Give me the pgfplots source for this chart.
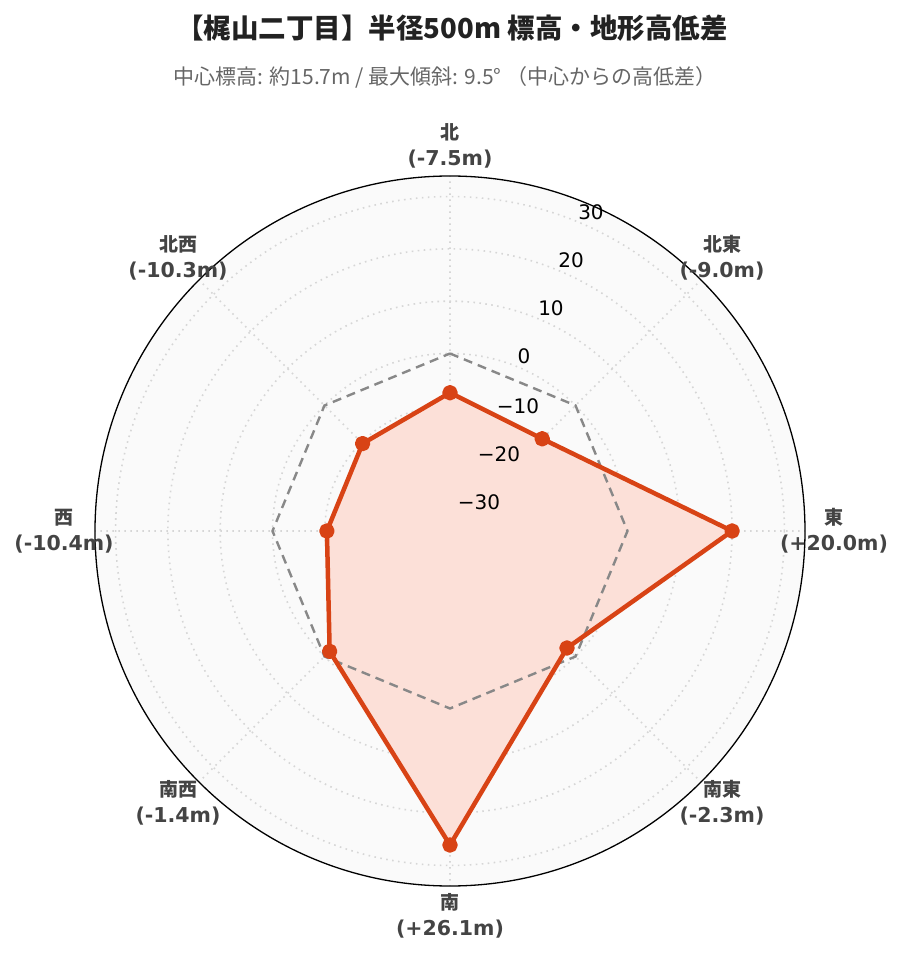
\documentclass[border=0pt]{standalone}
\usepackage{fontspec}
\usepackage{pgfplots}
\usepackage{pgfplotstable}
\pgfplotsset{compat=1.18}
\usepgfplotslibrary{polar}
\setmainfont{DejaVu Sans}
\newfontfamily\cjk{Noto Sans CJK JP}
\definecolor{lineC}{HTML}{D84315}
\definecolor{fillC}{RGB}{252,224,216}
\definecolor{bgC}{HTML}{FAFAFA}
\definecolor{gridC}{HTML}{D6D6D6}
\definecolor{dashC}{HTML}{888888}
\definecolor{labC}{HTML}{444444}
\definecolor{titC}{HTML}{222222}
\definecolor{subC}{HTML}{666666}
% bearing (deg, clockwise from north), height difference (m)
\pgfplotstableread{
b v
0 -7.5
45 -9.0
90 20.0
135 -2.3
180 26.1
225 -1.4
270 -10.4
315 -10.3
}\diffdata
\pgfplotstableread{
b v
0 0
45 0
90 0
135 0
180 0
225 0
270 0
315 0
}\zerodata
\newcommand{\dlab}[2]{{\cjk\bfseries\fontsize{19}{22}\selectfont #1}\\[8pt]{\bfseries\fontsize{20.5}{22}\selectfont #2}}
\begin{document}
\begin{tikzpicture}[x=1pt,y=1pt]
\useasboundingbox (0,0) rectangle (903,962);
\fill[bgC] (450,431) circle (355);
\begin{polaraxis}[
  at={(450pt,431pt)}, anchor=center,
  width=710pt, height=710pt, scale only axis,
  xmin=0, xmax=360, ymin=0, ymax=67.86,
  xtick={0,45,90,135,180,225,270,315},
  ytick={3.93,13.93,23.93,33.93,43.93,53.93,63.93},
  xticklabels={}, yticklabels={},
  grid=major,
  major grid style={gridC, line width=1.6pt, dash pattern=on 1.6pt off 4.4pt},
  axis line style={black, line width=1.3pt},
  y axis line style={draw=none},
  tick style={draw=none},
  x filter/.expression={mod(450-x,360)},
  y filter/.expression={y+33.93},
  clip=false,
]
\addplot[draw=none, fill=fillC] table[x=b,y=v] {\diffdata} -- cycle;
\addplot[draw=dashC, line width=2.4pt, dash pattern=on 9pt off 6pt, no marks] table[x=b,y=v] {\zerodata} -- cycle;
\addplot[draw=lineC, line width=4.5pt, line join=round, mark=*, mark size=5.5pt, mark options={fill=lineC, draw=none}] table[x=b,y=v] {\diffdata} -- cycle;
\end{polaraxis}
% radial tick labels
\begin{scope}[every node/.style={font=\fontsize{20}{22}\selectfont, text=black}]
\node at (591,962-212) {30};
\node at (571,962-260) {20};
\node at (551,962-308) {10};
\node at (524,962-356) {0};
\node at (518,962-406) {−10};
\node at (499,962-454) {−20};
\node at (479,962-502) {−30};
\end{scope}
% direction labels
\begin{scope}[every node/.style={align=center, text=labC, inner sep=0pt}]
\node at (450,962-146) {\dlab{北}{(-7.5m)}};
\node at (722,962-258) {\dlab{北東}{(-9.0m)}};
\node at (834,962-531) {\dlab{東}{(+20.0m)}};
\node at (722,962-803) {\dlab{南東}{(-2.3m)}};
\node at (450,962-916) {\dlab{南}{(+26.1m)}};
\node at (178,962-803) {\dlab{南西}{(-1.4m)}};
\node at (64,962-531) {\dlab{西}{(-10.4m)}};
\node at (178,962-258) {\dlab{北西}{(-10.3m)}};
\end{scope}
\node[text=titC, font=\cjk\bfseries\fontsize{27.5}{30}\selectfont] at (452,962-28) {【梶山二丁目】半径500m 標高・地形高低差};
\node[text=subC, font=\cjk\fontsize{21}{23}\selectfont] at (445,962-77) {中心標高: 約15.7m / 最大傾斜: 9.5° （中心からの高低差）};
\end{tikzpicture}
\end{document}
